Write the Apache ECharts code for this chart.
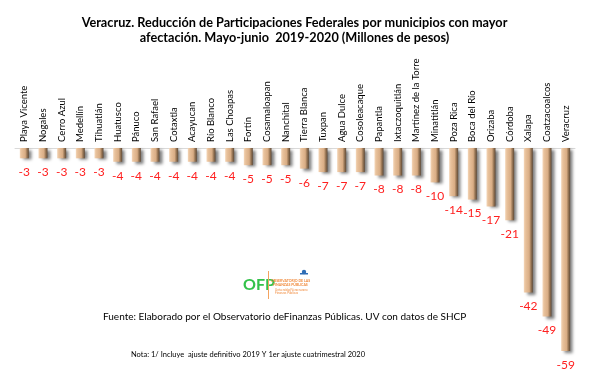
<!DOCTYPE html>
<html>
<head>
<meta charset="utf-8">
<script src="https://cdn.jsdelivr.net/npm/echarts@6/dist/echarts.min.js"></script>
<style>html,body{margin:0;padding:0;background:#fff;}#c{width:589px;height:372px;}</style>
</head>
<body>
<div id="c"></div>
<script>
const municipios = ["Playa Vicente","Nogales","Cerro Azul","Medellín","Tihuatlán","Huatusco","Pánuco","San Rafael","Cotaxtla","Acayucan","Río Blanco","Las Choapas","Fortín","Cosamaloapan","Nanchital","Tierra Blanca","Tuxpan","Agua Dulce","Cosoleacaque","Papantla","Ixtaczoquitlán","Martínez de la Torre","Minatitlán","Poza Rica","Boca del Río","Orizaba","Córdoba","Xalapa","Coatzacoalcos","Veracruz"];
const reduccion = [-3,-3,-3,-3,-3,-4,-4,-4,-4,-4,-4,-4,-5,-5,-5,-6,-7,-7,-7,-8,-8,-8,-10,-14,-15,-17,-21,-42,-49,-59];
const titulo = "Veracruz. Reducción de Participaciones Federales por municipios con mayor\nafectación. Mayo-junio  2019-2020 (Millones de pesos)";
const fuente = "Fuente: Elaborado por el Observatorio deFinanzas Públicas. UV con datos de SHCP";
const nota = "Nota: 1/ Incluye  ajuste definitivo 2019 Y 1er ajuste cuatrimestral 2020";

const chart = echarts.init(document.getElementById('c'), null, {renderer:'canvas'});
const barColor = new echarts.graphic.LinearGradient(0,0,1,0,[
  {offset:0, color:'#f4d6b8'},
  {offset:0.2, color:'#e8c19b'},
  {offset:0.6, color:'#d9ad85'},
  {offset:0.78, color:'#9e7b59'},
  {offset:1, color:'#5e4936'}
]);
chart.setOption({
  animation:false,
  backgroundColor:'#ffffff',
  title:{
    text: titulo,
    left:'center', top:10,
    textStyle:{fontFamily:'Lato', fontWeight:'bold', fontSize:12.7, lineHeight:15.5, color:'#000'}
  },
  grid:{left:15, right:14, top:148, bottom:21, containLabel:false},
  xAxis:{
    type:'category', position:'top', data:municipios,
    axisLine:{show:true, lineStyle:{color:'#d9d9d9', width:1}},
    axisTick:{show:false},
    axisLabel:{rotate:90, interval:0, margin:6, fontFamily:'Lato', fontSize:9.5, color:'#000'}
  },
  yAxis:{type:'value', min:-59, max:0, show:false, splitLine:{show:false}},
  series:[{
    type:'bar', data:reduccion, barWidth:9,
    itemStyle:{color:barColor, shadowColor:'rgba(0,0,0,0.5)', shadowBlur:3, shadowOffsetX:3, shadowOffsetY:2},
    label:{show:true, position:'bottom', distance:8, color:'#ff2020', fontFamily:'Lato', fontSize:12}
  }],
  graphic:[
    {type:'text', left:103, top:312, style:{text:fuente, fontFamily:'Lato', fontSize:10, fill:'#000'}},
    {type:'text', left:131, top:351, style:{text:nota, fontFamily:'Lato', fontSize:7.5, fill:'#000'}},
    {type:'text', left:243, top:277, style:{text:'OFP', fontFamily:'Lato', fontWeight:'bold', fontSize:16, fill:'#33c24a'}},
    {type:'rect', shape:{x:268, y:271, width:1, height:28}, style:{fill:'#f4a460'}},
    {type:'text', left:271, top:279, style:{text:'OBSERVATORIO DE LAS', fontFamily:'Lato', fontSize:3.5, fontWeight:'bold', fill:'#f08a3c'}},
    {type:'text', left:273, top:283, style:{text:'FINANZAS PÚBLICAS', fontFamily:'Lato', fontSize:3.5, fontWeight:'bold', fill:'#f08a3c'}},
    {type:'text', left:275, top:289, style:{text:'Universidad Veracruzana', fontFamily:'Lato', fontSize:3, fill:'#f08a3c'}},
    {type:'text', left:275, top:292, style:{text:'Finanzas Públicas', fontFamily:'Lato', fontSize:3, fill:'#f08a3c'}},
    {type:'circle', shape:{cx:304, cy:272, r:2.2}, style:{fill:'#2f6db5'}},
    {type:'rect', shape:{x:300, y:273, width:8, height:1.5}, style:{fill:'#2f6db5'}}
  ]
});
</script>
</body>
</html>
